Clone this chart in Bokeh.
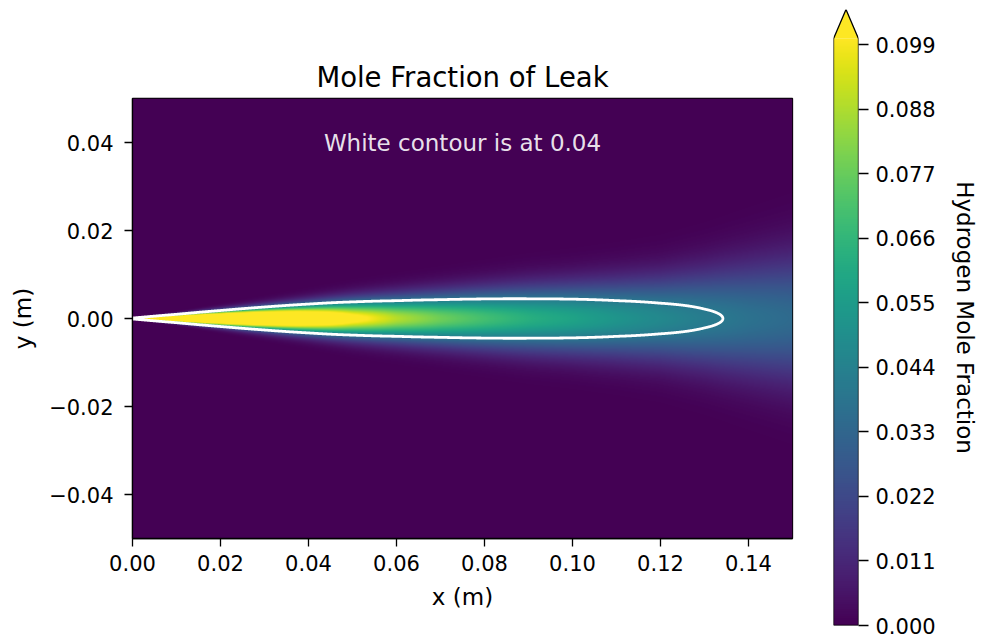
import numpy as np
from bokeh.plotting import figure
from bokeh.layouts import row
from bokeh.models import LinearColorMapper, FixedTicker, Label
from bokeh.palettes import Viridis256
from bokeh.embed import file_html
from bokeh.resources import INLINE

# ---- data ----
x_pos = [0.00, 0.01, 0.02, 0.03, 0.04, 0.05, 0.06, 0.07, 0.08, 0.09, 0.10, 0.11, 0.12, 0.13, 0.14, 0.15]
centerline_fraction = [0.30, 0.24, 0.195, 0.165, 0.135, 0.106, 0.089, 0.078, 0.070, 0.063, 0.058,
                       0.052, 0.0468, 0.0418, 0.0375, 0.0345]
plume_sigma = [0.00005, 0.0005, 0.00102, 0.00155, 0.0021, 0.0027, 0.0032, 0.0037, 0.0042, 0.0047,
               0.0051, 0.0056, 0.0062, 0.0072, 0.0084, 0.0096]
contour_level = 0.04
x_extent = [0.0, 0.15]
y_extent = [-0.05, 0.05]
x_ticks = [0.0, 0.02, 0.04, 0.06, 0.08, 0.10, 0.12, 0.14]
x_tick_labels = ["0.00", "0.02", "0.04", "0.06", "0.08", "0.10", "0.12", "0.14"]
y_ticks = [-0.04, -0.02, 0.0, 0.02, 0.04]
y_tick_labels = ["\u22120.04", "\u22120.02", "0.00", "0.02", "0.04"]
cbar_range = [0.0, 0.1]
cbar_ticks = [0.0, 0.011, 0.022, 0.033, 0.044, 0.055, 0.066, 0.077, 0.088, 0.099]
cbar_tick_labels = ["0.000", "0.011", "0.022", "0.033", "0.044", "0.055", "0.066", "0.077", "0.088", "0.099"]
extend_frac = 0.05

FONT = "DejaVu Sans"
TICK_FS = "21px"
LABEL_FS = "23px"

def field(xg, yg):
    cl = np.interp(xg, x_pos, centerline_fraction)
    sg = np.interp(xg, x_pos, plume_sigma)
    X = cl[None, :]
    S = sg[None, :]
    Y = yg[:, None]
    return X * np.exp(-(Y ** 2) / (2 * S ** 2))

nx, ny = 660, 440
xc = x_extent[0] + (np.arange(nx) + 0.5) * (x_extent[1] - x_extent[0]) / nx
yc = y_extent[0] + (np.arange(ny) + 0.5) * (y_extent[1] - y_extent[0]) / ny
img = field(xc, yc)

mapper = LinearColorMapper(palette=Viridis256, low=cbar_range[0], high=cbar_range[1])

H = 640
p = figure(width=820, height=H, x_range=tuple(x_extent), y_range=tuple(y_extent),
           output_backend="svg", toolbar_location=None,
           min_border_left=132, min_border_right=28, min_border_top=98, min_border_bottom=H - 98 - 440,
           title="Mole Fraction of Leak")
p.frame_align = False
p.image(image=[img], x=x_extent[0], y=y_extent[0], dw=x_extent[1] - x_extent[0],
        dh=y_extent[1] - y_extent[0], color_mapper=mapper)

# contour on a finer grid near the axis
xf = np.linspace(x_extent[0], x_extent[1], 1501)
yf = np.linspace(-0.008, 0.008, 401)
zf = field(xf, yf)
p.contour(xf, yf, zf, levels=[contour_level], line_color="white", line_width=2.8)

p.add_layout(Label(x=(x_extent[0] + x_extent[1]) / 2, y=0.04, text="White contour is at %.2f" % contour_level,
                   text_align="center", text_baseline="middle", text_color="white", text_alpha=0.9,
                   text_font=FONT, text_font_size="23px"))

p.title.text_font = FONT
p.title.text_font_size = "27.5px"
p.title.text_font_style = "normal"
p.title.align = "center"
p.title.text_color = "black"
p.title.standoff = 11

p.xgrid.visible = False
p.ygrid.visible = False
p.outline_line_color = "black"
p.outline_line_width = 1.3

p.xaxis.ticker = FixedTicker(ticks=x_ticks)
p.xaxis.major_label_overrides = dict(zip(x_ticks, x_tick_labels))
p.yaxis.ticker = FixedTicker(ticks=y_ticks)
p.yaxis.major_label_overrides = dict(zip(y_ticks, y_tick_labels))
p.xaxis.axis_label = "x (m)"
p.yaxis.axis_label = "y (m)"
for ax in (p.xaxis, p.yaxis):
    ax.major_label_text_font = FONT
    ax.major_label_text_font_size = TICK_FS
    ax.major_label_text_color = "black"
    ax.axis_label_text_font = FONT
    ax.axis_label_text_font_size = LABEL_FS
    ax.axis_label_text_font_style = "normal"
    ax.axis_label_text_color = "black"
    ax.major_tick_out = 8
    ax.major_tick_in = 0
    ax.minor_tick_line_color = None
    ax.major_tick_line_width = 1.3
    ax.axis_line_width = 1.3
    ax.axis_line_color = "black"
p.xaxis.major_label_standoff = 8
p.yaxis.major_label_standoff = 11
p.xaxis.axis_label_standoff = 10
p.yaxis.axis_label_standoff = 10

# ---- colorbar figure ----
cb_top = cbar_range[1] + extend_frac * (cbar_range[1] - cbar_range[0])
c = figure(width=160, height=H, x_range=(0, 1), y_range=(cbar_range[0], cb_top),
           output_backend="svg", toolbar_location=None, y_axis_location="right",
           min_border_left=13, min_border_right=118, min_border_top=9, min_border_bottom=H - 625)
c.frame_align = False
grad = np.linspace(cbar_range[0], cbar_range[1], 512).reshape(-1, 1)
c.image(image=[grad], x=0, y=cbar_range[0], dw=1, dh=cbar_range[1] - cbar_range[0], color_mapper=mapper)
c.patch([0, 0.5, 1], [cbar_range[1], cb_top, cbar_range[1]], fill_color=Viridis256[-1], line_color=None)
c.line([0, 0, 0.5, 1, 1, 0], [cbar_range[0], cbar_range[1], cb_top, cbar_range[1], cbar_range[0], cbar_range[0]],
       line_color="black", line_width=1.3)
c.xaxis.visible = False
c.xgrid.visible = False
c.ygrid.visible = False
c.outline_line_color = None
ay = c.yaxis
ay.ticker = FixedTicker(ticks=cbar_ticks)
ay.major_label_overrides = dict(zip(cbar_ticks, cbar_tick_labels))
ay.axis_label = "Hydrogen Mole Fraction"
ay.major_label_text_font = FONT
ay.major_label_text_font_size = TICK_FS
ay.major_label_text_color = "black"
ay.axis_label_text_font = FONT
ay.axis_label_text_font_size = LABEL_FS
ay.axis_label_text_font_style = "normal"
ay.axis_label_text_color = "black"
ay.major_tick_out = 10
ay.major_tick_in = 0
ay.minor_tick_line_color = None
ay.major_tick_line_width = 1.3
ay.axis_line_color = None
ay.major_label_standoff = 7
ay.axis_label_standoff = 13

layout = row(p, c)
open("out.html", "w").write(file_html(layout, INLINE))
